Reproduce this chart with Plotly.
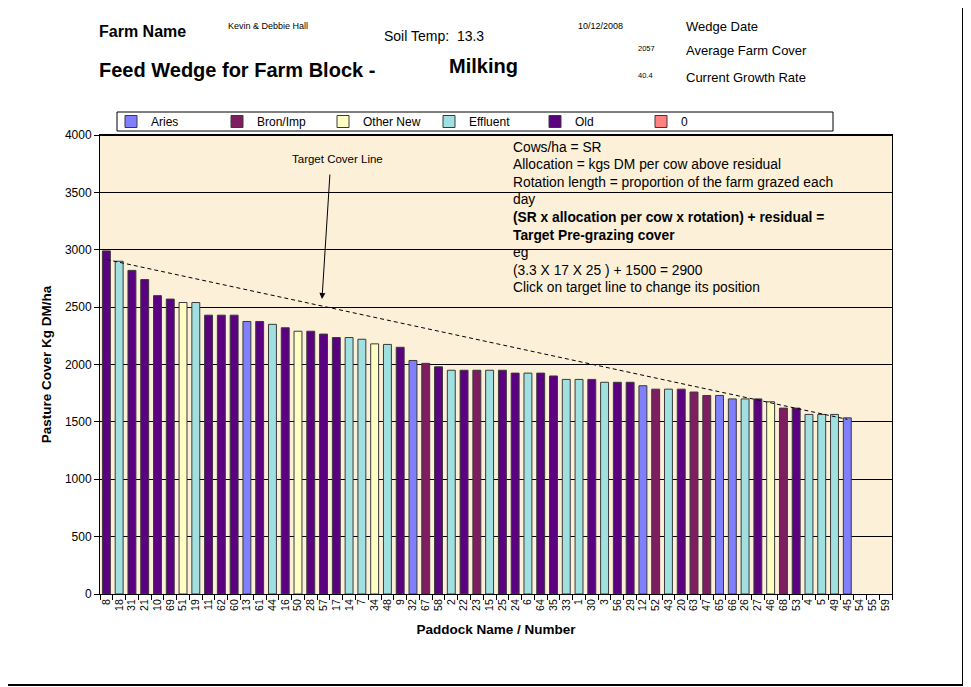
import plotly.graph_objects as go

# ---------------- data ----------------
paddocks = ["8", "18", "31", "21", "10", "69", "51", "19", "11", "62", "60", "13", "61", "44", "16",
            "50", "28", "57", "17", "14", "7", "34", "48", "9", "32", "67", "58", "2", "22", "23",
            "15", "25", "24", "6", "64", "35", "33", "1", "30", "3", "56", "29", "12", "52", "43",
            "20", "63", "47", "65", "66", "26", "27", "46", "68", "53", "4", "5", "49", "45",
            "54", "55", "59"]

covers = [2990, 2900, 2820, 2740, 2600, 2570, 2540, 2540, 2430, 2430, 2430, 2375, 2375, 2350, 2320,
          2290, 2290, 2265, 2235, 2235, 2220, 2180, 2175, 2150, 2035, 2010, 1980, 1950, 1950, 1950,
          1950, 1950, 1925, 1925, 1925, 1900, 1870, 1870, 1870, 1845, 1845, 1845, 1815, 1785, 1785,
          1785, 1760, 1730, 1730, 1700, 1700, 1700, 1675, 1620, 1620, 1565, 1565, 1565, 1535,
          None, None, None]

groups = ["Old", "Effluent", "Old", "Old", "Old", "Old", "Other New", "Effluent", "Old", "Old", "Old",
          "Aries", "Old", "Effluent", "Old", "Other New", "Old", "Old", "Old", "Effluent", "Effluent",
          "Other New", "Effluent", "Old", "Aries", "Bron/Imp", "Old", "Effluent", "Old", "Bron/Imp",
          "Effluent", "Old", "Old", "Effluent", "Old", "Old", "Effluent", "Effluent", "Old", "Effluent",
          "Old", "Old", "Aries", "Bron/Imp", "Effluent", "Old", "Bron/Imp", "Bron/Imp", "Aries", "Aries",
          "Effluent", "Old", "Other New", "Bron/Imp", "Old", "Effluent", "Effluent", "Effluent", "Aries",
          "0", "0", "0"]

legend_order = ["Aries", "Bron/Imp", "Other New", "Effluent", "Old", "0"]
group_colors = {"Aries": "#8080FF", "Bron/Imp": "#7E1E60", "Other New": "#FFFFC4",
                "Effluent": "#A0E0E0", "Old": "#5C0082", "0": "#FF8080"}

target_paddocks = ["8", "45"]
target_cover = [2915, 1522]

info_lines = ["Cows/ha = SR",
              "Allocation = kgs DM per cow above residual",
              "Rotation length = proportion of the farm grazed each",
              "day",
              "<b>(SR x allocation per cow x rotation) + residual =</b>",
              "<b>Target Pre-grazing cover</b>",
              "eg",
              "(3.3 X 17 X 25 ) + 1500 = 2900",
              "Click on target line to change its position"]

FONT = "Arial, Liberation Sans, sans-serif"

# page geometry; the page body adds an 8px offset to the figure
OFF = 8
L, R, T, B = 100, 892, 135, 594          # plot area in page pixels
W, H = 971, 687
def px(x):
    return (x - L) / (R - L)
def py(y):
    return (B - y) / (B - T)

fig = go.Figure()

for g in legend_order:
    xs = [p for p, gg in zip(paddocks, groups) if gg == g]
    ys = [c for c, gg in zip(covers, groups) if gg == g]
    fig.add_trace(go.Bar(x=xs, y=ys, name=g,
                         marker=dict(color=group_colors[g], line=dict(color="#3a3a3a", width=1)),
                         width=0.62))

fig.add_trace(go.Scatter(x=target_paddocks, y=target_cover, mode="lines", showlegend=False,
                         line=dict(color="black", width=1, dash="4px,3px")))

annotations = []
def txt(text, x, y, size, bold=False, anchor="left"):
    annotations.append(dict(text=("<b>%s</b>" % text) if bold else text, x=px(x), y=py(y),
                            xref="paper", yref="paper", xanchor=anchor, yanchor="middle",
                            showarrow=False, font=dict(family=FONT, size=size, color="black")))

txt("Farm Name", 97, 32, 16, True)
txt("Kevin & Debbie Hall", 226, 26, 9)
txt("Soil Temp:  13.3", 382, 36, 14)
txt("10/12/2008", 576, 26, 9)
txt("Wedge Date", 684, 26, 13)
txt("2057", 636, 49, 7.5)
txt("Average Farm Cover", 684, 50, 13)
txt("40.4", 636, 76, 7.5)
txt("Current Growth Rate", 684, 77, 13)
txt("Feed Wedge for Farm Block -", 97, 70, 20, True)
txt("Milking", 447, 66, 20, True)

for i, line in enumerate(info_lines):
    txt(line, 511, 147 + i * 17.6, 13.8)

# Target Cover Line label with arrow
txt("Target Cover Line", 337, 159, 11.5, anchor="center")
annotations.append(dict(text="", x=px(322), y=py(299), xref="paper", yref="paper",
                        ax=8, ay=-126, axref="pixel", ayref="pixel",
                        showarrow=True, arrowhead=2, arrowsize=1.2, arrowwidth=1, arrowcolor="black"))

shapes = [
    # legend box
    dict(type="rect", xref="paper", yref="paper", x0=px(117), x1=px(833), y0=py(131), y1=py(112),
         line=dict(color="black", width=1), fillcolor="rgba(0,0,0,0)", layer="above"),
    # thicker top border of plot area
    dict(type="line", xref="paper", yref="paper", x0=0, x1=1, y0=1, y1=1,
         line=dict(color="black", width=2)),
    # outer chart border (right and bottom)
    dict(type="line", xref="paper", yref="paper", x0=px(963), x1=px(963), y0=py(0), y1=py(686),
         line=dict(color="black", width=2)),
    dict(type="line", xref="paper", yref="paper", x0=px(0), x1=px(963), y0=py(685), y1=py(685),
         line=dict(color="black", width=2)),
]

fig.update_layout(
    width=W - OFF, height=H - OFF,
    margin=dict(l=L - OFF, r=W - R, t=T - OFF, b=H - B, autoexpand=False),
    paper_bgcolor="white",
    plot_bgcolor="#FCF0D9",
    barmode="overlay",
    font=dict(family=FONT, size=11, color="black"),
    showlegend=True,
    legend=dict(orientation="h", x=px(111), y=py(107), xanchor="left", yanchor="top",
                font=dict(family=FONT, size=12), bgcolor="rgba(0,0,0,0)",
                entrywidth=61, entrywidthmode="pixels", itemwidth=30, traceorder="normal",
                tracegroupgap=0),
    annotations=annotations,
    shapes=shapes,
    xaxis=dict(type="category", categoryorder="array", categoryarray=paddocks,
               tickmode="linear", tick0=0, dtick=1,
               tickangle=-90, tickfont=dict(size=10.5), ticks="outside", ticklen=5,
               tickson="boundaries", tickcolor="black",
               showline=True, linecolor="black", linewidth=1, mirror=True,
               showgrid=False,
               title=dict(text="<b>Paddock Name / Number</b>", font=dict(size=13.5), standoff=14),
               range=[-0.5, len(paddocks) - 0.5]),
    yaxis=dict(range=[0, 4000], dtick=500, tickfont=dict(size=12), ticks="outside", ticklen=5,
               tickcolor="black", showline=True, linecolor="black", linewidth=1, mirror=True,
               showgrid=True, gridcolor="black", gridwidth=1, zeroline=False,
               title=dict(text="<b>Pasture Cover Kg DM/ha</b>", font=dict(size=13.5), standoff=10)),
)

fig.write_html("out.html")
